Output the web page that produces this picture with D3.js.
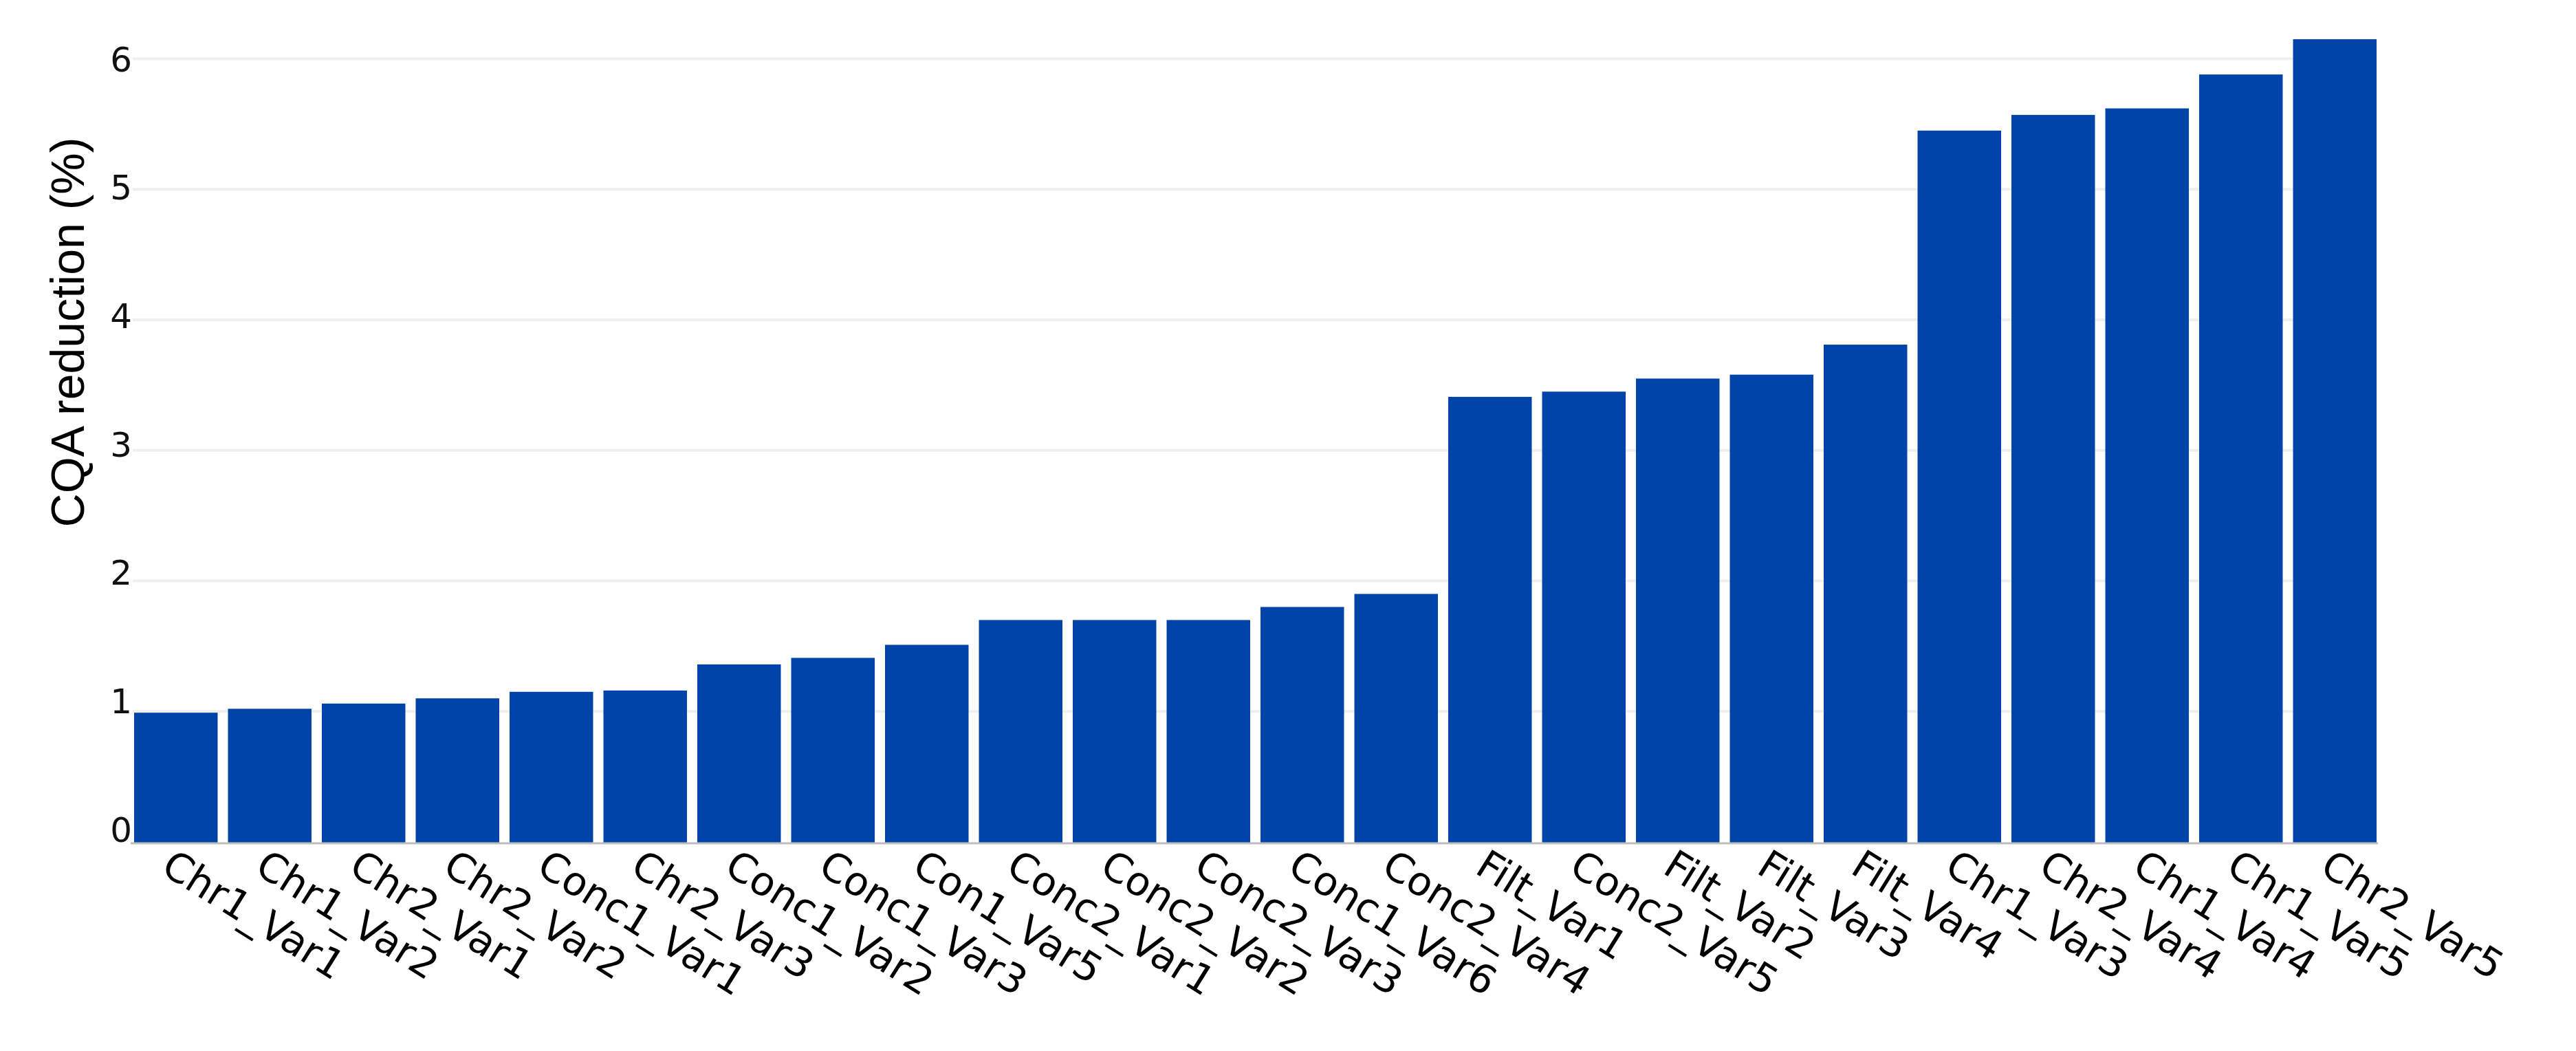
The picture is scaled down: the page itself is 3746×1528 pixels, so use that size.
<!DOCTYPE html>
<html>
<head>
<meta charset="utf-8">
<script src="https://cdn.jsdelivr.net/npm/d3@7"></script>
<style>
  html, body { margin: 0; padding: 0; background: #ffffff; }
  svg { display: block; }
</style>
</head>
<body>
<div id="chart"></div>
<script>
// ---- data ----
const categories = [
  "Chr1_Var1", "Chr1_Var2", "Chr2_Var1", "Chr2_Var2", "Conc1_Var1", "Chr2_Var3",
  "Conc1_Var2", "Conc1_Var3", "Con1_Var5", "Conc2_Var1", "Conc2_Var2", "Conc2_Var3",
  "Conc1_Var6", "Conc2_Var4", "Filt_Var1", "Conc2_Var5", "Filt_Var2", "Filt_Var3",
  "Filt_Var4", "Chr1_Var3", "Chr2_Var4", "Chr1_Var4", "Chr1_Var5", "Chr2_Var5"
];
const values = [
  0.99, 1.02, 1.06, 1.10, 1.15, 1.16,
  1.36, 1.41, 1.51, 1.70, 1.70, 1.70,
  1.80, 1.90, 3.41, 3.45, 3.55, 3.58,
  3.81, 5.45, 5.57, 5.62, 5.88, 6.15
];
const yTicks = [0, 1, 2, 3, 4, 5, 6];
const yTitle = "CQA reduction (%)";

// ---- layout ----
const W = 3746, H = 1528;
const plotLeft = 195, plotRight = 3456;
const gridLeft = 193;

const svg = d3.select("#chart").append("svg")
  .attr("width", W).attr("height", H)
  .attr("viewBox", `0 0 ${W} ${H}`);

svg.append("rect").attr("width", W).attr("height", H).attr("fill", "#ffffff");

const x = d3.scaleBand()
  .domain(categories)
  .range([plotLeft, plotRight])
  .paddingInner(0.11)
  .paddingOuter(0);

const y = d3.scaleLinear().domain([0, 6]).range([1224, 85.5]);
// tick labels sit slightly above their grid lines toward the bottom (as in the source)
const yLab = d3.scaleLinear().domain([0, 6]).range([1207, 87]);

// gridlines
svg.append("g").selectAll("line")
  .data(yTicks.filter(t => t > 0))
  .join("line")
  .attr("x1", gridLeft).attr("x2", plotRight)
  .attr("y1", d => y(d)).attr("y2", d => y(d))
  .attr("stroke", "#efefef").attr("stroke-width", 4);

// bars
const data = categories.map((c, i) => ({ c, v: values[i] }));
svg.append("g").selectAll("rect")
  .data(data)
  .join("rect")
  .attr("x", d => x(d.c))
  .attr("y", d => y(d.v))
  .attr("width", x.bandwidth())
  .attr("height", d => y(0) - y(d.v) + 2)
  .attr("fill", "#0044a9");

// baseline
svg.append("line")
  .attr("x1", 190).attr("x2", plotRight + 2)
  .attr("y1", y(0) + 2).attr("y2", y(0) + 2)
  .attr("stroke", "#bdbdbd").attr("stroke-width", 3);

// y axis labels
const yAxis = svg.append("g")
  .attr("transform", `translate(192,0)`)
  .call(d3.axisLeft(yLab).tickValues(yTicks).tickSize(0).tickPadding(0).tickFormat(d3.format("d")));
yAxis.select(".domain").remove();
yAxis.selectAll("text")
  .attr("font-family", "'DejaVu Sans', Verdana, sans-serif")
  .attr("font-size", 50)
  .attr("fill", "#111");

// x axis labels
const xAxis = svg.append("g")
  .attr("transform", `translate(0,${y(0)})`)
  .call(d3.axisBottom(x).tickSize(0));
xAxis.select(".domain").remove();
xAxis.selectAll("text")
  .attr("x", null).attr("y", null).attr("dy", null)
  .attr("text-anchor", "start")
  .attr("transform", "translate(-24,44) rotate(32)")
  .attr("font-family", "'DejaVu Sans', Verdana, sans-serif")
  .attr("font-size", 58)
  .attr("fill", "#000");

// y title
svg.append("text")
  .attr("transform", `translate(122,483) rotate(-90)`)
  .attr("text-anchor", "middle")
  .attr("font-family", "'Liberation Sans', Arial, sans-serif")
  .attr("font-size", 68)
  .attr("fill", "#000")
  .text(yTitle);
</script>
</body>
</html>
